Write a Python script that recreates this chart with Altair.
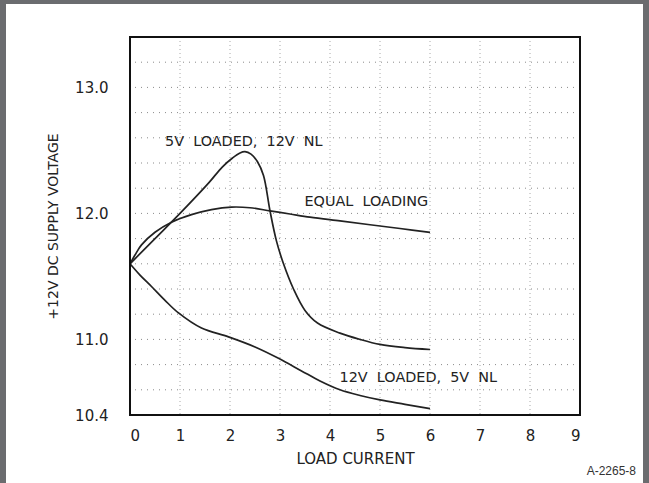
import altair as alt
import pandas as pd

# Regulation curves: +12V output vs load current
equal_x = [0, 0.1, 0.23, 0.5, 0.83, 1.23, 1.63, 2.03, 2.4, 2.8, 3.2, 3.6, 4.2, 4.8, 5.4, 6.0]
equal_y = [11.6, 11.67, 11.75, 11.85, 11.93, 11.99, 12.03, 12.05, 12.045, 12.02, 11.995, 11.97, 11.94, 11.91, 11.88, 11.85]

five_x = [0, 0.5, 1.0, 1.57, 1.85, 2.05, 2.2, 2.3, 2.42, 2.55, 2.67, 2.8, 2.93, 3.07, 3.27, 3.5, 3.75, 4.2, 4.6, 5.0, 5.5, 6.0]
five_y = [11.6, 11.8, 12.0, 12.24, 12.37, 12.44, 12.48, 12.49, 12.47, 12.41, 12.3, 12.02, 11.78, 11.6, 11.4, 11.23, 11.13, 11.05, 11.0, 10.96, 10.935, 10.92]

twelve_x = [0, 0.2, 0.43, 0.7, 0.97, 1.43, 1.97, 2.5, 2.97, 3.43, 3.8, 4.2, 4.6, 5.0, 5.5, 6.0]
twelve_y = [11.6, 11.51, 11.42, 11.31, 11.21, 11.09, 11.02, 10.94, 10.85, 10.75, 10.67, 10.6, 10.555, 10.52, 10.485, 10.45]

# Curve annotations (non-breaking spaces keep the wide word gaps in SVG)
label_text = ["5V\u00a0 LOADED,\u00a0 12V\u00a0 NL", "EQUAL\u00a0 LOADING", "12V\u00a0 LOADED,\u00a0 5V\u00a0 NL"]
label_x = [0.70, 3.49, 4.19]
label_y = [12.57, 12.09, 10.69]

# Grid positions
hgrid = [round(10.6 + 0.2 * i, 1) for i in range(14)]
vgrid = [1, 2, 3, 4, 5, 6, 7, 8]

x_ticks = [0, 1, 2, 3, 4, 5, 6, 7, 8, 9]
y_ticks = [10.4, 11.0, 12.0, 13.0]

FONT = "DejaVu Sans"
INK = "#222222"

curves = pd.concat([
    pd.DataFrame({"current": equal_x, "volts": equal_y, "curve": "equal"}),
    pd.DataFrame({"current": five_x, "volts": five_y, "curve": "5v"}),
    pd.DataFrame({"current": twelve_x, "volts": twelve_y, "curve": "12v"}),
])
labels = pd.DataFrame({"text": label_text, "current": label_x, "volts": label_y})

xs = alt.Scale(domain=[0, 9], nice=False, zero=False)
ys = alt.Scale(domain=[10.4, 13.4], nice=False, zero=False)

x_axis = alt.Axis(values=x_ticks, format="d", grid=False, ticks=False, domain=False, zindex=1,
                  labelPadding=13, labelFontSize=15, labelFont=FONT, labelColor=INK,
                  title="LOAD CURRENT", titleFont=FONT, titleFontSize=15,
                  titleFontWeight="normal", titleColor=INK,
                  titleY=43, titleBaseline="middle")
y_axis = alt.Axis(values=y_ticks, format=".1f", grid=False, ticks=False, domain=False, zindex=1,
                  labelPadding=22, labelFontSize=15, labelFont=FONT, labelColor=INK,
                  title="+12V DC SUPPLY VOLTAGE", titleFont=FONT, titleFontSize=14,
                  titleFontWeight="normal", titleColor=INK,
                  titleX=-77, titleY=189, titleAngle=-90, titleBaseline="middle", titleAlign="center")

# white sheet behind the plot
panel = alt.Chart(pd.DataFrame({"a": [0]})).mark_rect(color="white").encode(
    x=alt.value(-124), x2=alt.value(513), y=alt.value(-33), y2=alt.value(470)
)

hg = alt.Chart(pd.DataFrame({"v": hgrid})).mark_rule(
    color="#8a8a8a", strokeWidth=1, strokeDash=[1, 5]
).encode(y=alt.Y("v:Q", scale=ys, axis=y_axis))

vg = alt.Chart(pd.DataFrame({"c": vgrid})).mark_rule(
    color="#a8a8a8", strokeWidth=1, strokeDash=[1, 3]
).encode(x=alt.X("c:Q", scale=xs, axis=x_axis))

lines = alt.Chart(curves).mark_line(
    color=INK, strokeWidth=1.7, interpolate="catmull-rom"
).encode(
    x=alt.X("current:Q", scale=xs, axis=x_axis),
    y=alt.Y("volts:Q", scale=ys, axis=y_axis),
    detail="curve:N",
)

text = alt.Chart(labels).mark_text(
    align="left", baseline="middle", font=FONT, fontSize=14.4, color=INK
).encode(x=alt.X("current:Q", scale=xs), y=alt.Y("volts:Q", scale=ys), text="text:N")

# plot frame
frame = alt.Chart(pd.DataFrame({"a": [0]})).mark_rect(
    fillOpacity=0, stroke="#111111", strokeWidth=2
).encode(x=alt.value(0), x2=alt.value(450), y=alt.value(0), y2=alt.value(378))

code = alt.Chart(pd.DataFrame({"t": ["A-2265-8"]})).mark_text(
    align="right", baseline="middle", font="Liberation Sans", fontSize=12, color="#333333"
).encode(x=alt.value(506), y=alt.value(434), text="t:N")

chart = alt.layer(panel, hg, vg, lines, text, frame, code).properties(
    width=450, height=378,
    autosize=alt.AutoSizeParams(type="none"),
    padding={"left": 130, "top": 37, "right": 69, "bottom": 68},
    background="#6b6c6f",
).configure_view(stroke=None)

chart.save("out.html", embed_options={"renderer": "svg", "actions": False})
